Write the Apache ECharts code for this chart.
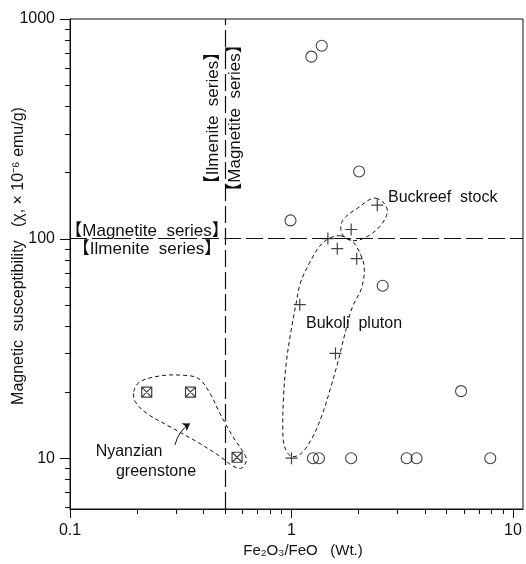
<!DOCTYPE html>
<html>
<head>
<meta charset="utf-8">
<script src="https://cdn.jsdelivr.net/npm/echarts@6/dist/echarts.min.js"></script>
<style>
    html, body { margin: 0; padding: 0; background: #fff; }
    #chart { width: 526px; height: 564px; }
</style>
</head>
<body>
<div id="chart"></div>
<script>
// Fe2O3/FeO vs magnetic susceptibility (log-log)

// open circles
const circleX = [1.23, 1.37, 2.02, 0.99, 2.58, 5.83, 1.25, 1.33, 1.86, 3.31, 3.67, 7.9];
const circleY = [674, 756, 202, 121, 61, 20.2, 10, 10, 10, 10, 10, 10];
// crosses (Bukoli pluton / Buckreef stock)
const plusX = [1.46, 1.61, 1.86, 1.97, 2.44, 1.09, 1.58, 1.0];
const plusY = [100, 90, 110, 81, 142, 50, 30, 10];
// boxed crosses (Nyanzian greenstone)
const boxX = [0.222, 0.35, 0.568];
const boxY = [20, 20, 10.1];

// dashed group outlines
const nyanzianX = [0.194, 0.207, 0.255, 0.314, 0.379, 0.428, 0.475, 0.545, 0.604, 0.626, 0.594, 0.545, 0.475, 0.373, 0.283, 0.222, 0.197];
const nyanzianY = [20.1, 22.3, 23.7, 23.9, 23.1, 19.8, 16.0, 12.5, 10.7, 9.8, 9.0, 9.2, 10.2, 11.9, 13.9, 16.0, 18.1];
const bukoliX = [1.673, 1.886, 2.021, 2.129, 2.074, 1.886, 1.761, 1.615, 1.508, 1.382, 1.247, 1.105, 0.997, 0.930, 0.914, 0.921, 0.947, 0.997, 1.05, 1.097, 1.205, 1.336, 1.482];
const bukoliY = [102.9, 96.9, 87.3, 74.6, 59.6, 49.0, 38.4, 27.1, 21.2, 16.0, 12.5, 10.5, 10.2, 11.3, 13.5, 19.1, 27.1, 38.4, 50.8, 62.8, 77.3, 91.9, 100.4];
const buckreefX = [2.403, 2.618, 2.709, 2.572, 2.319, 2.021, 1.823, 1.701, 1.673, 1.761, 1.987, 2.242];
const buckreefY = [152.8, 145.0, 132.7, 117.5, 105.8, 98.6, 98.6, 104.0, 115.5, 126.0, 137.5, 150.1];

// arrow to the Nyanzian field
const arrowX = [0.298, 0.348];
const arrowY = [11.5, 14.4];

// series boundaries
const boundaryX = 0.5;
const boundaryY = 100;

// axis ticks
const xMajor = [0.1, 1, 10];
const xMinor = [0.2, 0.3, 0.4, 0.5, 0.6, 0.7, 0.8, 0.9, 2, 3, 4, 5, 6, 7, 8, 9];
const yMajor = [10, 100, 1000];
const yMinor = [6, 7, 8, 9, 20, 30, 40, 50, 60, 70, 80, 90, 200, 300, 400, 500, 600, 700, 800, 900];

const X_MIN = 0.1, X_MAX = 11.1;
const Y_MIN = 5.87, Y_MAX = 1000;

const W = 526, H = 564;
const GRID = { left: 70, top: 19, right: 1, bottom: 55 };

const FONT = "'Liberation Sans', 'Noto Sans CJK JP', sans-serif";
const INK = '#111';

const outlines = [
    [nyanzianX, nyanzianY],
    [bukoliX, bukoliY],
    [buckreefX, buckreefY]
];

function zip(xs, ys) {
    return xs.map((x, i) => [x, ys[i]]);
}

function isDecade(v) {
    const l = Math.log10(v);
    return Math.abs(l - Math.round(l)) < 1e-6;
}

function txt(text, x, y, size, align, rotation) {
    return {
        type: 'text', x: x, y: y, rotation: rotation || 0, silent: true,
        style: {
            text: text, fontSize: size, fontFamily: FONT, fill: INK,
            align: align, verticalAlign: 'middle', textAlign: align, textVerticalAlign: 'middle'
        }
    };
}

const chart = echarts.init(document.getElementById('chart'));

const option = {
    animation: false,
    grid: {
        left: GRID.left,
        top: GRID.top,
        right: GRID.right,
        bottom: GRID.bottom,
        show: true,
        borderColor: INK,
        borderWidth: 1
    },
    xAxis: {
        type: 'log',
        logBase: 10,
        min: X_MIN,
        max: X_MAX,
        axisLine: { lineStyle: { color: INK, width: 1 } },
        axisTick: { show: false },
        splitLine: { show: false },
        axisLabel: {
            margin: 14,
            color: INK,
            fontSize: 16,
            fontFamily: FONT,
            formatter: function (v) {
                if (!isDecade(v)) return '';
                const r = Math.pow(10, Math.round(Math.log10(v)));
                return r < 1 ? '0.1' : String(r);
            }
        }
    },
    yAxis: {
        type: 'log',
        logBase: 10,
        min: Y_MIN,
        max: Y_MAX,
        axisLine: { lineStyle: { color: INK, width: 1 } },
        axisTick: { show: false },
        splitLine: { show: false },
        axisLabel: {
            margin: 15,
            color: INK,
            fontSize: 16,
            fontFamily: FONT,
            formatter: function (v) {
                return isDecade(v) ? String(Math.round(v)) : '';
            }
        }
    },
    series: [
        {
            // group outlines
            type: 'custom',
            silent: true,
            data: outlines.map((o, i) => [1, 10, i]),
            renderItem: function (params, api) {
                const o = outlines[params.dataIndex];
                const pts = zip(o[0], o[1]).map(p => api.coord(p));
                return {
                    type: 'polygon',
                    shape: { points: pts, smooth: 0.35 },
                    style: { fill: 'none', stroke: INK, lineWidth: 1, lineDash: [4, 3] }
                };
            },
            markLine: {
                silent: true,
                symbol: 'none',
                label: { show: false },
                lineStyle: { color: INK, width: 1.2, type: [17, 5] },
                data: [
                    { xAxis: boundaryX },
                    { yAxis: boundaryY }
                ]
            },
            z: 3
        },
        {
            type: 'scatter',
            silent: true,
            data: zip(circleX, circleY),
            symbol: 'circle',
            symbolSize: 11,
            itemStyle: { color: 'rgba(0,0,0,0)', borderColor: INK, borderWidth: 1.1 },
            z: 4
        },
        {
            type: 'scatter',
            silent: true,
            data: zip(plusX, plusY),
            symbol: 'path://M0,6L12,6M6,0L6,12',
            symbolSize: 12,
            itemStyle: { color: 'none', borderColor: INK, borderWidth: 1.2 },
            z: 4
        },
        {
            type: 'scatter',
            silent: true,
            data: zip(boxX, boxY),
            symbol: 'path://M0,0L10,0L10,10L0,10ZM0,0L10,10M10,0L0,10',
            symbolSize: 10,
            itemStyle: { color: 'none', borderColor: INK, borderWidth: 1.2 },
            z: 4
        },
        {
            type: 'lines',
            coordinateSystem: 'cartesian2d',
            silent: true,
            symbol: ['none', 'arrow'],
            symbolSize: 7,
            lineStyle: { color: INK, width: 1, curveness: 0.2, opacity: 1 },
            data: [{ coords: zip(arrowX, arrowY) }],
            z: 4
        }
    ]
};

chart.setOption(option);

// axis ticks (outward, minor ticks at 2..9 of each decade), placed through the axis scales
const ticks = [];
const axisX = GRID.left;          // left axis line
const axisY = H - GRID.bottom;    // bottom axis line
const tickRect = (x, y, w, h) => ({
    type: 'rect', silent: true, z: 50,
    shape: { x: x, y: y, width: w, height: h },
    style: { fill: INK }
});
function addXTicks(vals, len) {
    vals.forEach(v => {
        const p = chart.convertToPixel({ xAxisIndex: 0 }, v);
        const x = Math.round(Array.isArray(p) ? p[0] : p);
        ticks.push(tickRect(x, axisY, 1, len));
    });
}
function addYTicks(vals, len) {
    vals.forEach(v => {
        const p = chart.convertToPixel({ yAxisIndex: 0 }, v);
        const y = Math.round(Array.isArray(p) ? p[1] : p);
        ticks.push(tickRect(axisX - len, y, len, 1));
    });
}
addXTicks(xMajor, 9);
addXTicks(xMinor, 5);
addYTicks(yMajor, 10);
addYTicks(yMinor, 5);

const labels = [
    txt('Magnetic  susceptibility   (χ, × 10⁻⁶ emu/g)', 19, 256, 16, 'center', Math.PI / 2),
    txt('Fe₂O₃/FeO   (Wt.)', 303, 551, 15, 'center'),
    txt('【Magnetite  series】', 147, 231, 17, 'center'),
    txt('【Ilmenite  series】', 147, 249, 17, 'center'),
    txt('【Ilmenite  series】', 213, 118, 17, 'center', Math.PI / 2),
    txt('【Magnetite  series】', 235, 118, 17, 'center', Math.PI / 2),
    txt('Buckreef  stock', 388, 198, 16, 'left'),
    txt('Bukoli  pluton', 306, 324, 16, 'left'),
    txt('Nyanzian', 129, 452, 16, 'center'),
    txt('greenstone', 156, 472, 16, 'center')
];

chart.setOption({ graphic: ticks.concat(labels) });
</script>
</body>
</html>
